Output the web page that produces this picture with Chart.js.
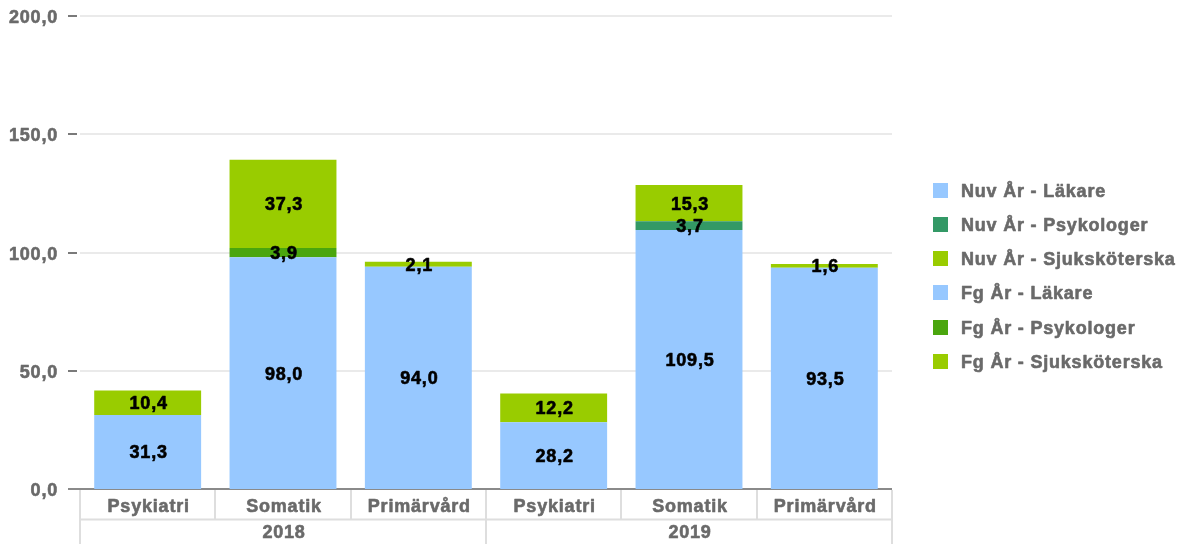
<!DOCTYPE html>
<html>
<head>
<meta charset="utf-8">
<script src="https://cdn.jsdelivr.net/npm/chart.js@4/dist/chart.umd.min.js"></script>
<style>
html,body{margin:0;padding:0;background:#fff;}
canvas{display:block;}
</style>
</head>
<body>
<canvas id="c" width="1193" height="544"></canvas>
<script>
const categories = ['Psykiatri','Somatik','Primärvård','Psykiatri','Somatik','Primärvård'];
const years = ['2018','2019'];
const categoriesPerYear = 3;
const nuvLakare = [null,null,null,28.2,109.5,93.5];
const nuvPsykologer = [null,null,null,null,3.7,null];
const nuvSjukskoterska = [null,null,null,12.2,15.3,1.6];
const fgLakare = [31.3,98.0,94.0,null,null,null];
const fgPsykologer = [null,3.9,null,null,null,null];
const fgSjukskoterska = [10.4,37.3,2.1,null,null,null];
const yTicks = [0,50,100,150,200];

const FONT = 'bold 18px "Liberation Sans", Arial, sans-serif';
const GRAY_TEXT = '#6a6a6a';
const fmt = v => v.toFixed(1).replace('.', ',');

function setText(ctx, color){
  ctx.font = FONT;
  ctx.fillStyle = color;
  ctx.strokeStyle = color;
  ctx.lineWidth = 0.6;
  ctx.lineJoin = 'round';
  try { ctx.letterSpacing = '0.8px'; } catch(e) {}
  ctx.textBaseline = 'alphabetic';
}
function txt(ctx, s, x, y){
  ctx.fillText(s, x, y);
  ctx.strokeText(s, x, y);
}

const customDraw = {
  id: 'customDraw',
  beforeDatasetsDraw(chart){
    const ctx = chart.ctx, ca = chart.chartArea, y = chart.scales.y;
    ctx.save();
    yTicks.forEach(t => {
      const py = Math.round(y.getPixelForValue(t));
      if (t !== 0) {
        ctx.strokeStyle = '#e3e3e3';
        ctx.lineWidth = 1.5;
        ctx.beginPath(); ctx.moveTo(ca.left, py); ctx.lineTo(ca.right, py); ctx.stroke();
      }
      ctx.strokeStyle = '#7a7a7a';
      ctx.lineWidth = 2;
      ctx.beginPath(); ctx.moveTo(68, py); ctx.lineTo(77, py); ctx.stroke();
      setText(ctx, GRAY_TEXT);
      ctx.textAlign = 'right';
      txt(ctx, fmt(t), 58, py + 6.5);
    });
    const p0 = Math.round(y.getPixelForValue(0));
    ctx.strokeStyle = '#8a8a8a';
    ctx.lineWidth = 2;
    ctx.beginPath(); ctx.moveTo(68, p0); ctx.lineTo(ca.right, p0); ctx.stroke();
    ctx.restore();
  },
  afterDatasetsDraw(chart){
    const ctx = chart.ctx, ca = chart.chartArea;
    ctx.save();
    setText(ctx, '#000');
    ctx.textAlign = 'center';
    chart.data.datasets.forEach((ds, di) => {
      const meta = chart.getDatasetMeta(di);
      meta.data.forEach((el, i) => {
        const v = ds.data[i];
        if (v === null || v === undefined) return;
        const cy = (el.y + el.base) / 2;
        txt(ctx, fmt(v), el.x + 1, cy + 6.5);
      });
    });
    const n = categories.length;
    const w = (ca.right - ca.left) / n;
    const top = ca.bottom;
    const mid = 519.5;
    const bot = 544;
    ctx.strokeStyle = '#dedede';
    ctx.lineWidth = 2;
    ctx.beginPath(); ctx.moveTo(ca.left, mid); ctx.lineTo(ca.right, mid); ctx.stroke();
    for (let i = 0; i <= n; i++) {
      const x = Math.round(ca.left + i * w);
      const full = (i % categoriesPerYear === 0);
      ctx.beginPath(); ctx.moveTo(x, top + 1); ctx.lineTo(x, full ? bot : mid); ctx.stroke();
    }
    setText(ctx, GRAY_TEXT);
    ctx.textAlign = 'center';
    categories.forEach((c, i) => {
      txt(ctx, c, ca.left + (i + 0.5) * w + 1, 512);
    });
    years.forEach((yr, g) => {
      const cx = ca.left + (g * categoriesPerYear + categoriesPerYear / 2) * w;
      txt(ctx, yr, cx + 1, 538);
    });
    ctx.textAlign = 'left';
    chart.data.datasets.forEach((ds, di) => {
      const cy = 190.5 + di * 34.15;
      ctx.fillStyle = ds.backgroundColor;
      ctx.fillRect(933, Math.round(cy - 7.5), 15, 15);
      setText(ctx, GRAY_TEXT);
      txt(ctx, ds.label, 961, cy + 6.5);
    });
    ctx.restore();
  }
};

const BLUE = '#97c8ff';
const LIME = '#99cc00';
const TEAL = '#339966';
const GREEN = '#4aa60e';

new Chart(document.getElementById('c'), {
  type: 'bar',
  data: {
    labels: categories,
    datasets: [
      { label: 'Nuv År - Läkare', data: nuvLakare, backgroundColor: BLUE, stack: 's' },
      { label: 'Nuv År - Psykologer', data: nuvPsykologer, backgroundColor: TEAL, stack: 's' },
      { label: 'Nuv År - Sjuksköterska', data: nuvSjukskoterska, backgroundColor: LIME, stack: 's' },
      { label: 'Fg År - Läkare', data: fgLakare, backgroundColor: BLUE, stack: 's' },
      { label: 'Fg År - Psykologer', data: fgPsykologer, backgroundColor: GREEN, stack: 's' },
      { label: 'Fg År - Sjuksköterska', data: fgSjukskoterska, backgroundColor: LIME, stack: 's' }
    ]
  },
  options: {
    responsive: false,
    animation: false,
    devicePixelRatio: 1,
    layout: { padding: { left: 80, right: 301, top: 16, bottom: 55 } },
    datasets: { bar: { categoryPercentage: 1, barPercentage: 0.79, borderWidth: 0 } },
    scales: {
      x: { display: false, stacked: true },
      y: { display: false, stacked: true, min: 0, max: 200 }
    },
    plugins: { legend: { display: false }, tooltip: { enabled: false } }
  },
  plugins: [customDraw]
});
</script>
</body>
</html>
